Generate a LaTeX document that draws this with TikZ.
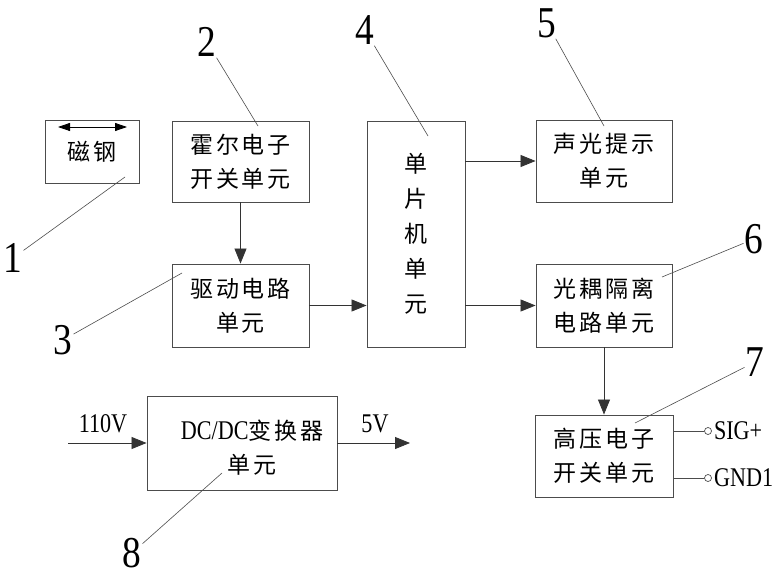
\documentclass[tikz,border=0pt]{standalone}
\usepackage{fontspec}
\setmainfont{Liberation Serif}
\newfontfamily\cjk[LetterSpace=12]{Noto Sans CJK SC}
\newfontfamily\asc[FakeStretch=0.82]{Liberation Serif}
\newfontfamily\numfont[FakeStretch=0.85]{Liberation Serif}
\usetikzlibrary{arrows.meta}
\tikzset{
  unitbox/.style={draw=black!70,line width=0.9pt,align=center,inner sep=0pt,
    font=\cjk\fontsize{23}{34}\selectfont},
  flow/.style={draw=black!80,line width=0.8pt,-{Triangle[length=15pt,width=12pt]}},
  leader/.style={draw=black!70,line width=0.6pt},
  num/.style={font=\numfont\fontsize{44}{44}\selectfont,inner sep=1pt},
  sigtext/.style={font=\asc\fontsize{27}{27}\selectfont,inner sep=0pt},
  pin/.style={circle,draw=black!70,line width=0.7pt,inner sep=0pt,minimum size=7pt}
}
\begin{document}
\begin{tikzpicture}[x=1pt,y=-1pt]
    \useasboundingbox (0,0) rectangle (778,577);
    %% Units
    \node[unitbox,minimum width=94pt,minimum height=63pt] (magnet) at (92,151.5) {磁钢};
    \node[unitbox,minimum width=137pt,minimum height=81pt] (hall) at (240.5,161.5) {霍尔电子\\开关单元};
    \node[unitbox,minimum width=137pt,minimum height=83pt] (drive) at (240.5,305.5) {驱动电路\\单元};
    \node[unitbox,minimum width=98pt,minimum height=226pt,font=\cjk\fontsize{23}{35}\selectfont] (mcu) at (416,234) {单\\片\\机\\单\\元};
    \node[unitbox,minimum width=136pt,minimum height=82pt] (sound) at (604,161) {声光提示\\单元};
    \node[unitbox,minimum width=136pt,minimum height=83pt] (opto) at (604,305.5) {光耦隔离\\电路单元};
    \node[unitbox,minimum width=138pt,minimum height=82pt] (hv) at (604,456) {高压电子\\开关单元};
    \node[unitbox,minimum width=190pt,minimum height=94pt] (dcdc) at (242,443) {};
    \node[align=center,inner sep=0pt,font=\cjk\fontsize{23}{34}\selectfont] (dctext) at (252,448)
        {{\asc\fontsize{27}{34}\selectfont DC/DC}变换器\\单元};
    %% Magnet direction
    \coordinate (magL) at (58,127);
    \coordinate (magR) at (127,127);
    \draw[line width=0.8pt,{Triangle[length=12pt,width=8pt]}-{Triangle[length=12pt,width=8pt]}] (magL) -- (magR);
    %% Signal flow
    \draw[flow] (hall) -- (drive);
    \draw[flow] (drive) -- (mcu.west |- drive);
    \draw[flow] (mcu.east |- sound) -- (sound);
    \draw[flow] (mcu.east |- opto) -- (opto);
    \draw[flow] (opto) -- (hv);
    %% Power
    \coordinate (in110) at (68,443);
    \coordinate (out5) at (410,443);
    \draw[flow] (in110) -- (dcdc);
    \draw[flow] (dcdc) -- (out5);
    \node[sigtext] (v110) at (103,424) {110V};
    \node[sigtext] (v5) at (375,424) {5V};
    %% Output pins
    \node[pin] (sigpin) at (708,431) {};
    \node[pin] (gndpin) at (708,478) {};
    \draw[black!70,line width=0.8pt] (hv.east |- sigpin) -- (sigpin);
    \draw[black!70,line width=0.8pt] (hv.east |- gndpin) -- (gndpin);
    \node[sigtext,anchor=west] (sig) at ([xshift=2pt]sigpin.east) {SIG+};
    \node[sigtext,anchor=west] (gnd) at ([xshift=2pt]gndpin.east) {GND1};
    %% Reference numbers
    \node[num] (n1) at (13,258) {1};
    \node[num] (n2) at (207,42) {2};
    \node[num] (n3) at (63,340) {3};
    \node[num] (n4) at (365,30) {4};
    \node[num] (n5) at (547,23) {5};
    \node[num] (n6) at (754,239) {6};
    \node[num] (n7) at (755,362) {7};
    \node[num] (n8) at (132,553) {8};
    \coordinate (t1) at (125,177);
    \coordinate (t2) at (258,126);
    \coordinate (t3) at (182,273);
    \coordinate (t4) at (428,136);
    \coordinate (t5) at (604,126);
    \coordinate (t6) at (662,277);
    \coordinate (t7) at (635,423);
    \coordinate (t8) at (222,473);
    \foreach \i in {1,...,8}
        \draw[leader] (n\i) -- (t\i);
\end{tikzpicture}
\end{document}
